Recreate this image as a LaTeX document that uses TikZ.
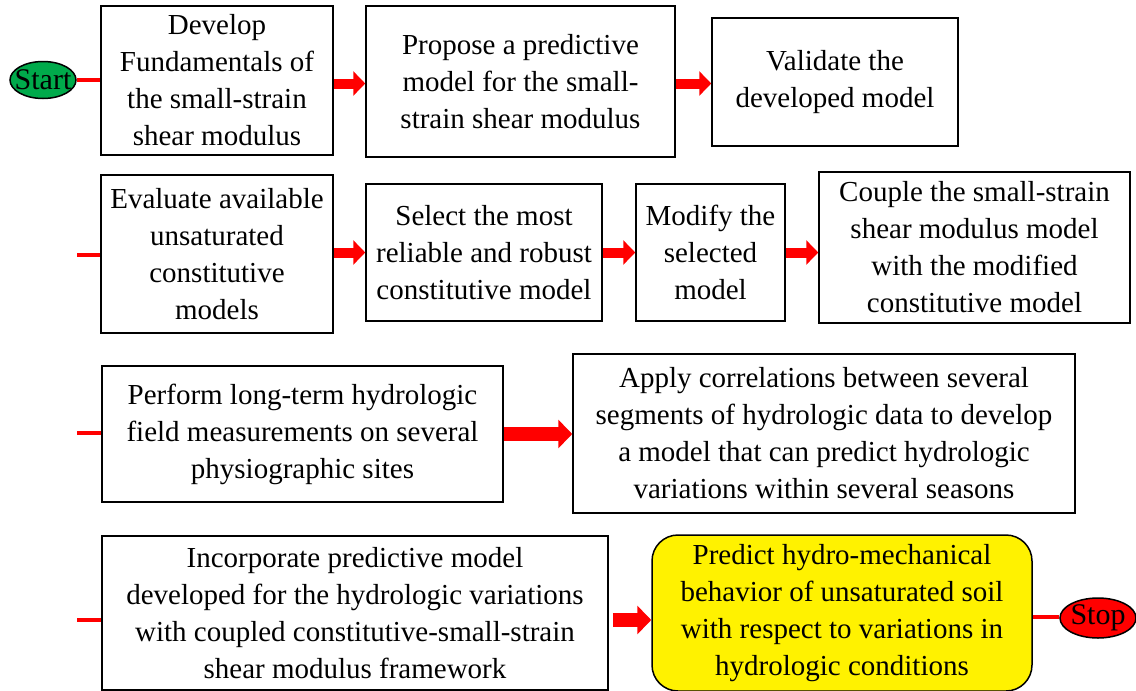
\documentclass[tikz,border=0pt]{standalone}
\usepackage{fontspec}
\setmainfont{Liberation Serif}
\usetikzlibrary{arrows.meta,shapes.geometric,calc}
\definecolor{startgreen}{RGB}{0,170,75}
\tikzset{
  every node/.style={font=\fontsize{29pt}{37pt}\selectfont},
  stepbox/.style={draw=black, line width=1.5pt, fill=white, align=center, inner sep=0pt},
  goalbox/.style={stepbox, fill=yellow, rounded corners=26pt},
  terminal/.style={ellipse, draw=black, line width=1.5pt, inner sep=0pt,
    font=\fontsize{30pt}{32pt}\selectfont},
  flow/.style={red, line width=10pt, -{Triangle[length=12pt,width=24pt]}},
  wideflow/.style={red, line width=14pt, -{Triangle[length=14pt,width=28pt]}},
  stub/.style={red, line width=4pt},
}
\newcommand{\termtext}[1]{\makebox[0pt]{#1}}
\begin{document}
\begin{tikzpicture}[x=1pt,y=-1pt]
\useasboundingbox (0,0) rectangle (1136,691);

% row 1
\node[terminal, fill=startgreen, minimum width=66pt, minimum height=37pt] (start) at (43,80) {\termtext{Start}};
\node[stepbox, minimum width=232pt, minimum height=149pt] (b1) at (217,80.5)
  {Develop\\Fundamentals of\\the small-strain\\shear modulus};
\node[stepbox, minimum width=309pt, minimum height=151pt] (b2) at (520.5,81.5)
  {Propose a predictive\\model for the small-\\strain shear modulus};
\node[stepbox, minimum width=246pt, minimum height=128pt] (b3) at (835,82)
  {Validate the\\developed model};

% row 2
\node[stepbox, minimum width=232pt, minimum height=158pt] (b4) at (217,254)
  {Evaluate available\\unsaturated\\constitutive\\models};
\node[stepbox, minimum width=236pt, minimum height=137pt] (b5) at (484,252.5)
  {Select the most\\reliable and robust\\constitutive model};
\node[stepbox, minimum width=149pt, minimum height=137pt] (b6) at (710.5,252.5)
  {Modify the\\selected\\model};
\node[stepbox, minimum width=311pt, minimum height=151pt] (b7) at (974.5,247.5)
  {Couple the small-strain\\shear modulus model\\with the modified\\constitutive model};

% row 3
\node[stepbox, minimum width=401pt, minimum height=136pt] (b8) at (302.5,434)
  {Perform long-term hydrologic\\field measurements on several\\physiographic sites};
\node[stepbox, minimum width=502pt, minimum height=159pt] (b9) at (824,433.5)
  {Apply correlations between several\\segments of hydrologic data to develop\\a model that can predict hydrologic\\variations within several seasons};

% row 4
\node[stepbox, minimum width=506pt, minimum height=154pt] (b10) at (355,613)
  {Incorporate predictive model\\developed for the hydrologic variations\\with coupled constitutive-small-strain\\shear modulus framework};
\node[goalbox, minimum width=380pt, minimum height=156pt] (b11) at (842,613)
  {Predict hydro-mechanical\\behavior of unsaturated soil\\with respect to variations in\\hydrologic conditions};
\node[terminal, fill=red, minimum width=76pt, minimum height=40pt] (stop) at (1098,618) {\termtext{Stop}};

% loose ends where each row picks up from the previous one
\coordinate (in2) at (77,255);
\coordinate (in3) at (77,433);
\coordinate (in4) at (77,620);

% connectors
\draw[stub] (start.east) -- (start.east -| b1.west);
\draw[flow] ($(b1.east)+(0,3)$) -- ($(b1.east -| b2.west)+(0,3)$);
\draw[flow] ($(b2.east)+(0,2)$) -- ($(b2.east -| b3.west)+(0,2)$);

\draw[stub] (in2) -- (in2 -| b4.west);
\draw[flow] (b4.east |- b5.west) -- (b5.west);
\draw[flow] (b5.east) -- (b6.west);
\draw[flow] (b6.east) -- (b6.east -| b7.west);

\draw[stub] (in3) -- (in3 -| b8.west);
\draw[wideflow] (b8.east) -- (b8.east -| b9.west);

\draw[stub] (in4) -- (in4 -| b10.west);
\draw[wideflow] ($(b10.east)+(4,7)$) -- ($(b10.east -| b11.west)+(0,7)$);
\draw[stub] ($(b11.east)+(0,4)$) -- ($(b11.east -| stop.west)+(0,4)$);
\end{tikzpicture}
\end{document}
